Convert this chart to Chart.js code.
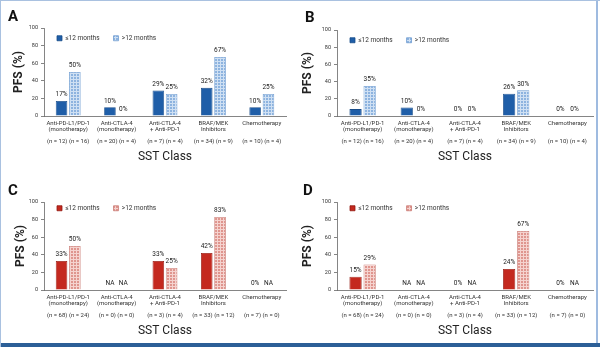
<!DOCTYPE html>
<html lang="en">

<head>
    <meta charset="UTF-8">
    <title>PFS by SST Class</title>
    <script src="https://cdn.jsdelivr.net/npm/chart.js"></script>
    <style>
        body {
            margin: 0;
            padding: 0;
            background: #ffffff;
            font-family: Roboto, Arial, sans-serif;
        }

        #frame {
            position: relative;
            width: 600px;
            height: 347px;
            box-sizing: border-box;
            border-left: 1px solid #a9c1e0;
            border-top: 1px solid #a9c1e0;
            overflow: hidden;
        }

        /* right edge line and dark band at the bottom */
        #edgeRight {
            position: absolute;
            left: 595px;
            top: 0;
            width: 2px;
            height: 342px;
            background: #9fbbe0;
        }

        #edgeBottom {
            position: absolute;
            left: 0;
            top: 342px;
            width: 600px;
            height: 5px;
            background: #2c5f97;
        }

        .panel {
            position: absolute;
            width: 296px;
            height: 171px;
        }

        .panel canvas {
            display: block;
        }

        .letter {
            position: absolute;
            font: bold 15px Roboto, Arial, sans-serif;
            color: #111;
        }
    </style>
</head>

<body>
    <div id="frame">
        <div class="panel" style="left:0;top:0"><canvas id="chartA"></canvas></div>
        <div class="panel" style="left:300px;top:0"><canvas id="chartB"></canvas></div>
        <div class="panel" style="left:0;top:171px"><canvas id="chartC"></canvas></div>
        <div class="panel" style="left:300px;top:171px"><canvas id="chartD"></canvas></div>
        <div class="letter" style="left:7px;top:6px">A</div>
        <div class="letter" style="left:304px;top:7px">B</div>
        <div class="letter" style="left:7px;top:180px">C</div>
        <div class="letter" style="left:302px;top:180px">D</div>
        <div id="edgeRight"></div>
        <div id="edgeBottom"></div>
    </div>

    <script>
        // categories
        const classNames = [
            ['Anti-PD-L1/PD-1', '(monotherapy)'],
            ['Anti-CTLA-4', '(monotherapy)'],
            ['Anti-CTLA-4', '+ Anti-PD-1'],
            ['BRAF/MEK', 'Inhibitors'],
            ['Chemotherapy', '']
        ];
        const seriesNames = ['\u226412 months', '>12 months'];

        // panel A
        const shortA = [17, 10, 29, 32, 10];
        const longA = [50, 0, 25, 67, 25];
        const countsA = ['(n = 12) (n = 16)', '(n = 20) (n = 4)', '(n = 7) (n = 4)', '(n = 34) (n = 9)', '(n = 10) (n = 4)'];

        // panel B
        const shortB = [8, 10, 0, 26, 0];
        const longB = [35, 0, 0, 30, 0];
        const countsB = ['(n = 12) (n = 16)', '(n = 20) (n = 4)', '(n = 7) (n = 4)', '(n = 34) (n = 9)', '(n = 10) (n = 4)'];

        // panel C (null = NA)
        const shortC = [33, null, 33, 42, 0];
        const longC = [50, null, 25, 83, null];
        const countsC = ['(n = 68) (n = 24)', '(n = 0) (n = 0)', '(n = 3) (n = 4)', '(n = 33) (n = 12)', '(n = 7) (n = 0)'];

        // panel D
        const shortD = [15, null, 0, 24, 0];
        const longD = [29, null, null, 67, null];
        const countsD = ['(n = 68) (n = 24)', '(n = 0) (n = 0)', '(n = 3) (n = 4)', '(n = 33) (n = 12)', '(n = 7) (n = 0)'];

        const yTicks = [0, 20, 40, 60, 80, 100];

        function makePattern(bg, line) {
            const c = document.createElement('canvas');
            c.width = 3;
            c.height = 3;
            const g = c.getContext('2d');
            g.fillStyle = bg;
            g.fillRect(0, 0, 3, 3);
            g.fillStyle = line;
            g.fillRect(0, 0, 3, 1);
            g.fillRect(0, 0, 1, 3);
            return g.createPattern(c, 'repeat');
        }

        const blue = { solid: '#1f5ea8', edge: '#174b88', hatch: makePattern('#8db3df', '#cfe0f3'), hatchEdge: '#6d9bd0' };
        const red = { solid: '#c4291f', edge: '#92180f', hatch: makePattern('#df958e', '#f5d3cf'), hatchEdge: '#c97a73' };

        // legend sits inside the plot, laid out in one row
        const rowLegend = {
            id: 'rowLegend',
            beforeUpdate(chart) {
                if (chart.legend) chart.legend.isHorizontal = () => true;
            },
            afterLayout(chart, args, opts) {
                const lg = chart.legend;
                const area = chart.chartArea;
                lg.left = area.left - 1;
                lg.right = area.right;
                lg.top = area.top + opts.dy;
            }
        };

        // writes "17%" / "NA" above every bar
        const barLabels = {
            id: 'barLabels',
            afterDatasetsDraw(chart) {
                const ctx = chart.ctx;
                const y = chart.scales.y;
                ctx.save();
                ctx.font = '6.5px Roboto, Arial, sans-serif';
                ctx.fillStyle = '#222';
                ctx.textAlign = 'center';
                ctx.textBaseline = 'bottom';
                chart.data.datasets.forEach((ds, i) => {
                    chart.getDatasetMeta(i).data.forEach((bar, j) => {
                        const v = ds.data[j];
                        const txt = v === null ? 'NA' : v + '%';
                        ctx.fillText(txt, bar.x, y.getPixelForValue(v === null ? 0 : v) - 3);
                    });
                });
                ctx.restore();
            }
        };

        function drawPanel(id, shortVals, longVals, counts, col, box) {
            const W = 296, H = 171;
            const canvas = document.getElementById(id);
            canvas.width = W;
            canvas.height = H;
            const labels = classNames.map((c, i) => [c[0], c[1], '', counts[i]]);

            new Chart(canvas, {
                type: 'bar',
                data: {
                    labels: labels,
                    datasets: [
                        { label: seriesNames[0], data: shortVals, backgroundColor: col.solid, borderColor: col.edge, borderWidth: 0.8 },
                        { label: seriesNames[1], data: longVals, backgroundColor: col.hatch, borderColor: col.hatchEdge, borderWidth: 0.8 }
                    ]
                },
                options: {
                    responsive: false,
                    animation: false,
                    categoryPercentage: 0.55,
                    barPercentage: 0.87,
                    layout: { padding: { left: box.padLeft, top: box.top, right: W - box.right, bottom: box.padBottom } },
                    plugins: {
                        legend: {
                            position: 'chartArea',
                            align: 'start',
                            labels: { boxWidth: 5, boxHeight: 5, padding: 14, color: '#333', font: { size: 6.5, family: 'Roboto' } }
                        },
                        rowLegend: { dy: box.legendDy },
                        tooltip: { enabled: false }
                    },
                    scales: {
                        x: {
                            grid: { display: false, drawTicks: false },
                            border: { display: true, color: '#666', width: 0.8 },
                            ticks: {
                                color: '#333', font: { size: 6, family: 'Roboto', lineHeight: 1.0 },
                                maxRotation: 0, autoSkip: false, padding: 4
                            },
                            title: { display: true, text: 'SST Class', color: '#222', font: { size: 12, family: 'Roboto' }, padding: { bottom: 0 } },
                            afterFit: s => { s.height = H - box.bottom - box.padBottom; }
                        },
                        y: {
                            min: 0,
                            max: 100,
                            afterBuildTicks: s => { s.ticks = yTicks.map(v => ({ value: v })); },
                            grid: { drawOnChartArea: false, drawTicks: true, tickLength: 3, color: '#666', lineWidth: 0.8 },
                            border: { display: true, color: '#666', width: 0.8 },
                            ticks: { color: '#333', font: { size: 5.5, family: 'Roboto' }, padding: 3 },
                            title: { display: true, text: 'PFS (%)', color: '#222', font: { size: 12, weight: 'bold', family: 'Roboto' }, padding: { top: box.titlePad } },
                            afterFit: s => { s.width = box.left - box.padLeft; }
                        }
                    }
                },
                plugins: [rowLegend, barLabels]
            });
        }

        drawPanel('chartA', shortA, longA, countsA, blue, { padLeft: 6, titlePad: 5, left: 43, right: 285, top: 27, bottom: 115, padBottom: 8, legendDy: -7 });
        drawPanel('chartB', shortB, longB, countsB, blue, { padLeft: 0, titlePad: 0, left: 36, right: 292, top: 29, bottom: 115, padBottom: 8, legendDy: -7 });
        drawPanel('chartC', shortC, longC, countsC, red, { padLeft: 6, titlePad: 7, left: 43, right: 285, top: 30, bottom: 118, padBottom: 5, legendDy: -11 });
        drawPanel('chartD', shortD, longD, countsD, red, { padLeft: 0, titlePad: 0, left: 36, right: 292, top: 30, bottom: 118, padBottom: 5, legendDy: -11 });
    </script>
</body>

</html>
